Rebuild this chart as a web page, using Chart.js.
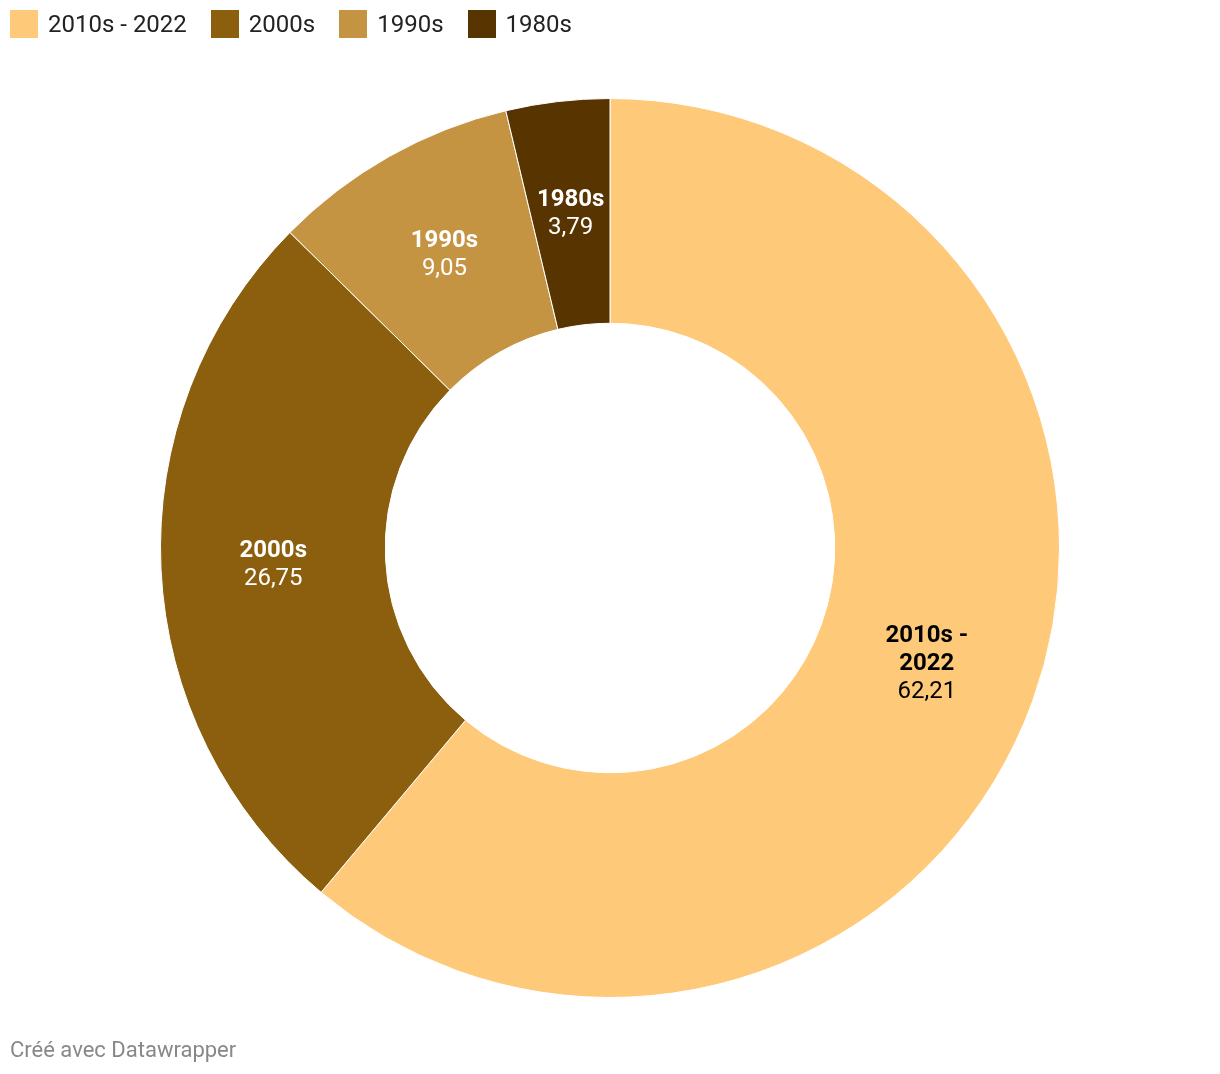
<!DOCTYPE html>
<html>
<head>
<meta charset="utf-8">
<script src="https://cdn.jsdelivr.net/npm/chart.js@4"></script>
<style>
  body { margin: 0; background: #fff; font-family: Roboto, sans-serif; }
  #wrap { position: relative; width: 1220px; height: 1074px; }
  #legend { position: absolute; left: 10px; top: 10px; display: flex; font-size: 24px; color: #222; }
  .item { display: flex; align-items: center; margin-right: 24px; height: 28px; }
  .sw { width: 28px; height: 28px; margin-right: 10px; }
  #footer { position: absolute; left: 10px; top: 1037px; font-size: 22px; color: #888; }
  canvas { position: absolute; left: 0; top: 0; }
</style>
</head>
<body>
<div id="wrap">
  <canvas id="donut" width="1220" height="1074"></canvas>
  <div id="legend"></div>
  <div id="footer">Créé avec Datawrapper</div>
</div>
<script>
const categories = ['2010s - 2022', '2000s', '1990s', '1980s'];
const values = [62.21, 26.75, 9.05, 3.79];
const colors = ['#fec979', '#8b5f0d', '#c59443', '#583400'];
const textColors = ['#000', '#fff', '#fff', '#fff'];

// legend
const legend = document.getElementById('legend');
categories.forEach((c, i) => {
    const item = document.createElement('div');
    item.className = 'item';
    item.innerHTML = '<div class="sw" style="background:' + colors[i] + '"></div>' + c;
    legend.appendChild(item);
});

const fmt = v => v.toFixed(2).replace('.', ',');

const labelPlugin = {
    id: 'sliceLabels',
    afterDatasetsDraw(chart) {
        const ctx = chart.ctx;
        const meta = chart.getDatasetMeta(0);
        meta.data.forEach((arc, i) => {
            const p = arc.getProps(['x', 'y', 'startAngle', 'endAngle', 'innerRadius', 'outerRadius']);
            const a = (p.startAngle + p.endAngle) / 2;
            const r = (p.innerRadius + p.outerRadius) / 2;
            const cx = p.x + Math.cos(a) * r;
            const cy = p.y + Math.sin(a) * r;
            ctx.save();
            ctx.font = 'bold 24px Roboto';
            let lines = [categories[i]];
            if (ctx.measureText(categories[i]).width > 110) {
                const k = categories[i].lastIndexOf(' ');
                lines = [categories[i].slice(0, k), categories[i].slice(k + 1)];
            }
            const all = lines.length + 1;
            const lh = 28;
            let y = cy - (all - 1) * lh / 2 + 1;
            ctx.fillStyle = textColors[i];
            ctx.textAlign = 'center';
            ctx.textBaseline = 'middle';
            lines.forEach(l => { ctx.fillText(l, cx, y); y += lh; });
            ctx.font = '24px Roboto';
            ctx.fillText(fmt(values[i]), cx, y);
            ctx.restore();
        });
    }
};

new Chart(document.getElementById('donut'), {
    type: 'doughnut',
    data: {
        labels: categories,
        datasets: [{
            data: values,
            backgroundColor: colors,
            borderColor: '#fff',
            borderWidth: 1
        }]
    },
    options: {
        responsive: false,
        animation: false,
        cutout: '50%',
        layout: { padding: { top: 98, bottom: 76 } },
        plugins: {
            legend: { display: false },
            tooltip: { enabled: false }
        }
    },
    plugins: [labelPlugin]
});
</script>
</body>
</html>
